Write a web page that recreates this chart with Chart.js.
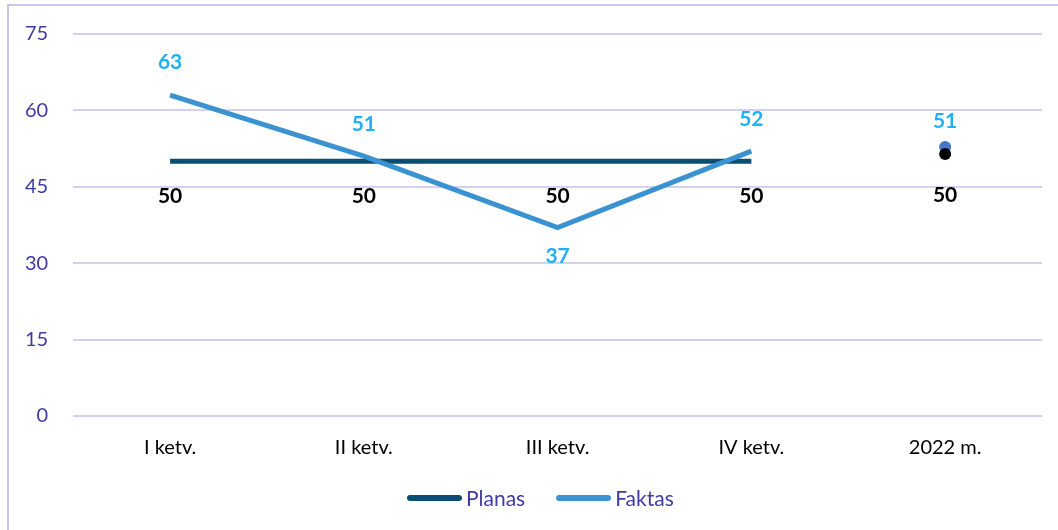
<!DOCTYPE html>
<html>
<head>
<meta charset="utf-8">
<script src="https://cdn.jsdelivr.net/npm/chart.js@4"></script>
<style>
  html, body { margin: 0; padding: 0; background: #fff; overflow: hidden; }
  #wrap { position: absolute; left: 0; top: 0; width: 1058px; height: 530px; }
  #frame { position: absolute; left: 7px; top: 4px; width: 1080px; height: 560px;
           border: 2px solid #cbc7ee; box-sizing: border-box; }
  #chart { position: absolute; left: 0; top: -3px; }
  #legend { position: absolute; left: 407px; top: 485px; display: flex; align-items: center;
            font-family: Lato, "Noto Sans", sans-serif; font-size: 21px; color: #3f3aa6; }
  #legend .item { display: flex; align-items: center; margin-right: 31px; }
  #legend .swatch { width: 55px; height: 6px; border-radius: 3px; margin-right: 4px; }
</style>
</head>
<body>
<div id="wrap">
  <div id="frame"></div>
  <canvas id="chart" width="1058" height="530"></canvas>
  <div id="legend"></div>
</div>
<script>
const categories = ['I ketv.', 'II ketv.', 'III ketv.', 'IV ketv.', '2022 m.'];
const planas = [50, 50, 50, 50, null];
const faktas = [63, 51, 37, 52, null];
// metiniai taskai (2022 m.) rodomi atskirai
const planasMetai = [null, null, null, null, 50];
const faktasMetai = [null, null, null, null, 51];
const yTicks = [0, 15, 30, 45, 60, 75];

const FONT = 'Lato, "Noto Sans", sans-serif';

// paprasti duomenu uzrasai (be datalabels papildinio)
const valueLabels = {
  id: 'valueLabels',
  afterDatasetsDraw(chart) {
    const ctx = chart.ctx;
    chart.data.datasets.forEach((ds, di) => {
      if (!ds.labelColor) return;
      const meta = chart.getDatasetMeta(di);
      meta.data.forEach((pt, i) => {
        const v = ds.data[i];
        if (v === null || v === undefined) return;
        const off = Array.isArray(ds.labelOffset) ? ds.labelOffset[i] : ds.labelOffset;
        ctx.save();
        ctx.font = 'bold 21px ' + FONT;
        ctx.fillStyle = ds.labelColor;
        ctx.textAlign = 'center';
        ctx.textBaseline = 'middle';
        ctx.fillText(String(v), pt.x, pt.y + off);
        ctx.restore();
      });
    });
  }
};

const chart = new Chart(document.getElementById('chart'), {
  type: 'line',
  data: {
    labels: categories,
    datasets: [
      {
        label: 'Planas',
        data: planas,
        borderColor: '#0d4d72',
        backgroundColor: '#0d4d72',
        borderWidth: 5,
        pointRadius: 0,
        tension: 0,
        labelColor: '#000000',
        labelOffset: 35,
        order: 2,
      },
      {
        label: 'Faktas',
        data: faktas,
        borderColor: '#3a92d0',
        backgroundColor: '#3a92d0',
        borderWidth: 5,
        pointRadius: 0,
        tension: 0,
        labelColor: '#20b0f4',
        labelOffset: [-33, -32, 29, -32, 0],
        order: 1,
      },
      {
        label: 'Planas 2022',
        data: planasMetai,
        yAxisID: 'y2',
        showLine: false,
        pointRadius: 6,
        pointBackgroundColor: '#000000',
        pointBorderWidth: 0,
        labelColor: '#000000',
        labelOffset: 41,
        order: 3,
      },
      {
        label: 'Faktas 2022',
        data: faktasMetai,
        yAxisID: 'y2',
        showLine: false,
        pointRadius: 6,
        pointBackgroundColor: '#4676c8',
        pointBorderWidth: 0,
        labelColor: '#20b0f4',
        labelOffset: -26,
        order: 4,
      },
    ],
  },
  options: {
    responsive: false,
    animation: false,
    layout: { padding: { left: 0, right: 16, top: 0, bottom: 55 } },
    plugins: {
      legend: { display: false },
      tooltip: { enabled: false },
    },
    scales: {
      x: {
        offset: true,
        grid: { display: false },
        border: { display: false },
        ticks: { color: '#000', font: { family: FONT, size: 20 }, padding: 12 },
      },
      y: {
        min: 0,
        max: 75,
        afterBuildTicks: (axis) => { axis.ticks = yTicks.map((v) => ({ value: v })); },
        grid: { color: '#d3d0f0', lineWidth: 2, drawTicks: false },
        border: { display: false },
        ticks: { color: '#3f3aa6', font: { family: FONT, size: 20 }, padding: 25 },
      },
      y2: {
        display: false,
        min: 12.7,
        max: 67.1,
      },
    },
  },
  plugins: [valueLabels],
});

// legenda tik dviem pagrindinems serijoms
const legendEl = document.getElementById('legend');
chart.data.datasets.slice(0, 2).forEach((ds) => {
  const item = document.createElement('div');
  item.className = 'item';
  item.innerHTML = `<span class="swatch" style="background:${ds.borderColor}"></span><span>${ds.label}</span>`;
  legendEl.appendChild(item);
});
</script>
</body>
</html>
